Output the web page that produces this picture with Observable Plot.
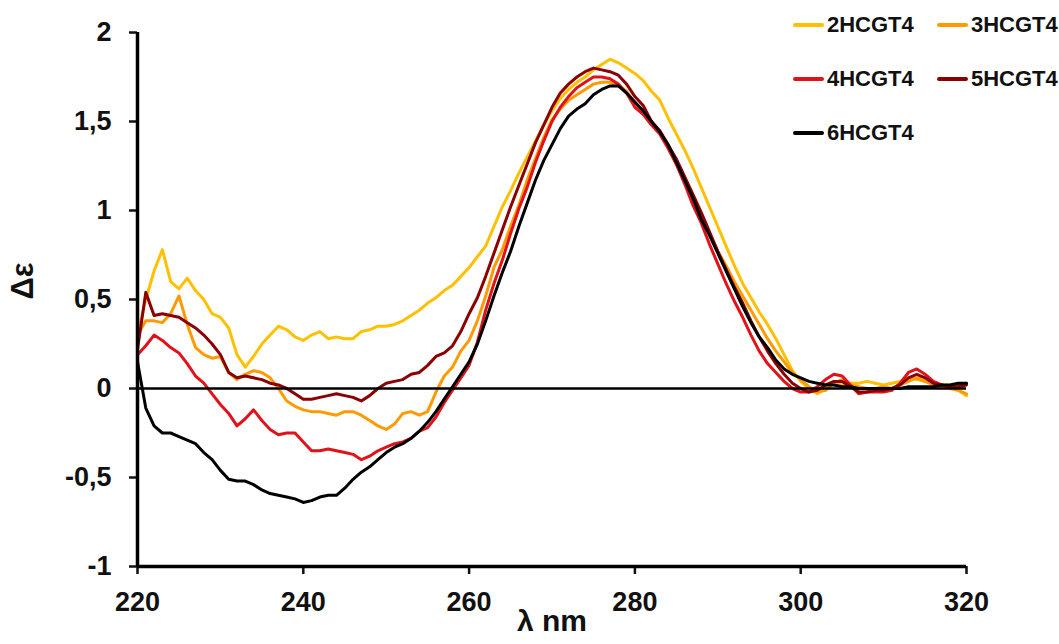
<!DOCTYPE html>
<html>
<head>
<meta charset="utf-8">
<script src="https://cdn.jsdelivr.net/npm/d3@7"></script>
<script src="https://cdn.jsdelivr.net/npm/@observablehq/plot@0.6"></script>
<style>
  body { margin: 0; background: #fff; }
  #wrap { position: relative; width: 1059px; height: 644px; font-family: "Liberation Sans", Arial, sans-serif; font-weight: bold; }
  .leg { position: absolute; display: flex; align-items: center; height: 26px; font-size: 22px; color: #111; }
  .leg .sw { width: 31px; height: 4px; border-radius: 2px; margin-right: 3px; }
</style>
</head>
<body>
<div id="wrap"></div>
<script>
// Wavelength grid (nm)
const wavelengths = d3.range(220, 321, 1);

const seriesNames = ["2HCGT4", "3HCGT4", "4HCGT4", "5HCGT4", "6HCGT4"];
const seriesColors = ["#FFC000", "#FF9A00", "#E0121A", "#8B0000", "#000000"];

// Δε values, 220..320 nm, 1 nm step
const s2HCGT4 = [0.30,0.50,0.66,0.78,0.60,0.56,0.62,0.55,0.50,0.42,
  0.40,0.34,0.19,0.12,0.18,0.25,0.30,0.35,0.33,0.29,
  0.27,0.30,0.32,0.28,0.29,0.28,0.28,0.32,0.33,0.35,
  0.35,0.36,0.38,0.41,0.44,0.48,0.51,0.55,0.58,0.63,
  0.68,0.74,0.80,0.91,1.02,1.11,1.21,1.30,1.39,1.48,
  1.56,1.63,1.68,1.72,1.75,1.79,1.82,1.85,1.83,1.80,
  1.77,1.73,1.67,1.62,1.52,1.43,1.34,1.24,1.13,1.02,
  0.91,0.80,0.69,0.59,0.51,0.43,0.36,0.28,0.19,0.10,
  0.04,0.00,-0.03,0.00,0.03,0.02,0.03,0.03,0.04,0.03,
  0.02,0.03,0.04,0.06,0.05,0.04,0.03,0.02,0.02,-0.01,
  -0.04];
const s3HCGT4 = [0.30,0.38,0.38,0.37,0.42,0.52,0.36,0.23,0.19,0.17,
  0.18,0.09,0.05,0.08,0.10,0.09,0.06,0.00,-0.07,-0.10,
  -0.12,-0.13,-0.13,-0.14,-0.15,-0.13,-0.13,-0.15,-0.18,-0.21,
  -0.23,-0.20,-0.14,-0.13,-0.15,-0.13,-0.02,0.07,0.12,0.21,
  0.27,0.38,0.52,0.68,0.78,0.91,1.03,1.17,1.29,1.41,
  1.51,1.57,1.62,1.65,1.68,1.71,1.72,1.72,1.70,1.67,
  1.60,1.55,1.50,1.44,1.37,1.26,1.17,1.07,0.97,0.87,
  0.77,0.69,0.60,0.52,0.44,0.36,0.28,0.21,0.15,0.09,
  0.05,0.01,-0.02,-0.01,0.03,0.05,0.02,0.01,0.00,0.00,
  0.01,0.00,0.02,0.04,0.06,0.04,0.02,0.01,0.00,-0.01,
  -0.03];
const s4HCGT4 = [0.19,0.24,0.30,0.27,0.23,0.20,0.14,0.07,0.03,-0.03,
  -0.09,-0.14,-0.21,-0.17,-0.12,-0.18,-0.23,-0.26,-0.25,-0.25,
  -0.30,-0.35,-0.35,-0.34,-0.35,-0.36,-0.37,-0.40,-0.38,-0.35,
  -0.33,-0.31,-0.30,-0.28,-0.24,-0.22,-0.16,-0.08,-0.01,0.06,
  0.13,0.26,0.44,0.59,0.72,0.87,1.01,1.13,1.27,1.39,
  1.50,1.58,1.64,1.69,1.72,1.75,1.75,1.74,1.71,1.66,
  1.58,1.54,1.48,1.43,1.35,1.26,1.15,1.03,0.93,0.81,
  0.70,0.59,0.49,0.40,0.30,0.21,0.14,0.09,0.04,0.00,
  -0.02,-0.02,0.01,0.05,0.08,0.07,0.02,-0.03,-0.02,-0.02,
  -0.02,-0.01,0.03,0.09,0.11,0.08,0.04,0.02,0.01,0.02,
  0.03];
const s5HCGT4 = [0.22,0.54,0.41,0.42,0.41,0.40,0.37,0.34,0.30,0.25,
  0.19,0.09,0.06,0.07,0.06,0.05,0.03,0.02,0.00,-0.03,
  -0.06,-0.06,-0.05,-0.04,-0.03,-0.04,-0.05,-0.07,-0.04,0.00,
  0.03,0.04,0.05,0.08,0.09,0.13,0.18,0.20,0.24,0.32,
  0.42,0.51,0.63,0.76,0.89,1.02,1.14,1.26,1.38,1.48,
  1.58,1.66,1.71,1.75,1.78,1.80,1.79,1.78,1.76,1.71,
  1.64,1.59,1.50,1.45,1.37,1.29,1.19,1.09,0.99,0.88,
  0.77,0.67,0.57,0.48,0.38,0.29,0.21,0.14,0.08,0.03,
  0.00,-0.02,-0.01,0.02,0.04,0.04,0.01,-0.02,-0.02,-0.01,
  -0.01,0.00,0.02,0.06,0.08,0.06,0.03,0.02,0.01,0.01,
  0.02];
const s6HCGT4 = [0.15,-0.11,-0.21,-0.25,-0.25,-0.27,-0.29,-0.31,-0.36,-0.40,
  -0.46,-0.51,-0.52,-0.52,-0.54,-0.57,-0.59,-0.60,-0.61,-0.62,
  -0.64,-0.63,-0.61,-0.60,-0.60,-0.56,-0.51,-0.47,-0.44,-0.40,
  -0.36,-0.33,-0.31,-0.28,-0.24,-0.19,-0.13,-0.06,0.01,0.08,
  0.15,0.25,0.38,0.52,0.65,0.77,0.91,1.04,1.17,1.28,
  1.37,1.46,1.53,1.57,1.60,1.65,1.68,1.70,1.70,1.66,
  1.61,1.56,1.50,1.44,1.37,1.27,1.17,1.07,0.95,0.86,
  0.76,0.66,0.56,0.46,0.37,0.29,0.23,0.16,0.11,0.08,
  0.06,0.04,0.03,0.02,0.02,0.01,0.01,0.00,0.00,0.00,
  0.00,0.00,0.00,0.01,0.01,0.01,0.01,0.02,0.02,0.03,
  0.03];

const xTicks = [220, 240, 260, 280, 300, 320];
const yTicks = [-1, -0.5, 0, 0.5, 1, 1.5, 2];

const seriesValues = [s2HCGT4, s3HCGT4, s4HCGT4, s5HCGT4, s6HCGT4];
const rows = [];
seriesNames.forEach((name, i) => {
  seriesValues[i].forEach((v, j) => rows.push({series: name, nm: wavelengths[j], de: v}));
});

const commaFmt = d => String(d).replace(".", ",");

const chart = Plot.plot({
  width: 1059,
  height: 644,
  marginLeft: 137,
  marginRight: 93,
  marginTop: 32,
  marginBottom: 78,
  style: { fontFamily: '"Liberation Sans", Arial, sans-serif', fontWeight: "bold", color: "#111", background: "#fff" },
  x: { domain: [220, 320] },
  y: { domain: [-1, 2] },
  color: { domain: seriesNames, range: seriesColors },
  marks: [
    Plot.axisX({ ticks: xTicks, tickFormat: d => String(d), tickSize: 8, tickPadding: 17, fontSize: 27, strokeWidth: 2.5, label: null }),
    Plot.axisY({ ticks: yTicks, tickFormat: commaFmt, tickSize: 8, tickPadding: 18, fontSize: 27, strokeWidth: 2.5, label: null }),
    Plot.line(rows, { x: "nm", y: "de", z: "series", stroke: "series", strokeWidth: 3, curve: "linear" }),
    Plot.ruleY([0], { stroke: "#000", strokeWidth: 2.5 }),
    Plot.ruleX([220], { stroke: "#000", strokeWidth: 3.5 }),
    Plot.ruleY([-1], { stroke: "#000", strokeWidth: 3.5 }),
    Plot.text(["Δε"], { frameAnchor: "left", dx: -114, rotate: -90, fontSize: 31, fontWeight: "bold", fill: "#111" }),
    Plot.text(["λ nm"], { frameAnchor: "bottom", dy: 64, fontSize: 30, fontWeight: "bold", fill: "#111", fontFamily: '"Liberation Sans", Arial, sans-serif' })
  ]
});

const wrap = document.getElementById("wrap");
wrap.appendChild(chart);

// Legend overlay (top right, inside the plot area)
const legendPos = [[793, 12], [937, 12], [793, 66], [937, 66], [793, 120]];
seriesNames.forEach((name, i) => {
  const d = document.createElement("div");
  d.className = "leg";
  d.style.left = legendPos[i][0] + "px";
  d.style.top = legendPos[i][1] + "px";
  const sw = document.createElement("span");
  sw.className = "sw";
  sw.style.background = seriesColors[i];
  const t = document.createElement("span");
  t.textContent = name;
  d.appendChild(sw);
  d.appendChild(t);
  wrap.appendChild(d);
});
</script>
</body>
</html>
